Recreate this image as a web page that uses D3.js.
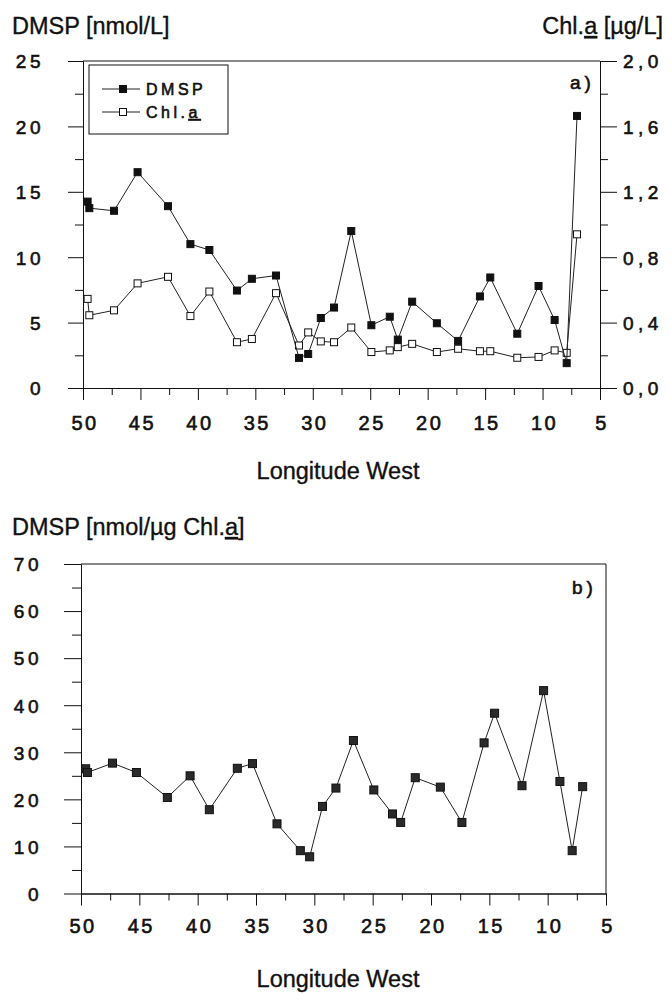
<!doctype html>
<html>
<head>
<meta charset="UTF-8">
<title>DMSP / Chl.a along longitude</title>
<script src="https://cdn.jsdelivr.net/npm/d3@7"></script>
<style>
    body{ margin:0; background:#fff; }
    text{ font-family:"Liberation Sans", Arial, sans-serif; fill:#111; }
</style>
</head>
<body>
<svg id="chart" width="671" height="993"></svg>
<script>
// stations, degrees West
var lon   = [49.6, 49.45, 47.3, 45.25, 42.6, 40.65, 39.0, 36.6, 35.3, 33.2, 31.2, 30.4, 29.3, 28.15,
             26.65, 24.9, 23.3, 22.6, 21.35, 19.2, 17.35, 15.45, 14.55, 12.2, 10.35, 8.95, 7.9, 7.0];
// DMSP nmol/L
var dmsp  = [14.25, 13.75, 13.55, 16.5, 13.9, 11.0, 10.55, 7.45, 8.35, 8.6, 2.3, 2.6, 5.35, 6.15,
             12.0, 4.8, 5.45, 3.7, 6.6, 4.95, 3.6, 7.0, 8.45, 4.15, 7.8, 5.2, 1.9, 20.8];
// Chl.a ug/L
var chl   = [0.545, 0.445, 0.475, 0.64, 0.68, 0.44, 0.59, 0.28, 0.30, 0.58, 0.26, 0.34, 0.285, 0.28,
             0.37, 0.22, 0.23, 0.25, 0.27, 0.22, 0.24, 0.225, 0.225, 0.185, 0.19, 0.23, 0.215, 0.94];
// DMSP nmol/ug Chl.a
var ratio = [26.5, 25.7, 27.7, 25.7, 20.4, 25.0, 17.8, 26.6, 27.6, 14.8, 9.1, 7.8, 18.5, 22.4,
             32.5, 22.0, 16.9, 15.1, 24.6, 22.6, 15.1, 32.0, 38.3, 22.9, 43.1, 23.8, 9.1, 22.7];

var lonTicks   = [50, 45, 40, 35, 30, 25, 20, 15, 10, 5];
var dmspTicks  = [0, 5, 10, 15, 20, 25];
var chlTicks   = [0, 0.4, 0.8, 1.2, 1.6, 2.0];
var ratioTicks = [0, 10, 20, 30, 40, 50, 60, 70];

var svg = d3.select("#chart");

function mids(t){
    return t.slice(1).map(function(v, i){ return (v + t[i]) / 2; });
}

function drawAxis(tx, ty, axisFn, scale, major, big, small, pad, fmt){
    var g = svg.append("g").attr("transform", "translate(" + tx + "," + ty + ")");
    g.append("g").call(axisFn(scale).tickValues(mids(major)).tickSize(small).tickSizeOuter(0).tickFormat(""));
    g.append("g").attr("class", "major")
     .call(axisFn(scale).tickValues(major).tickSize(big).tickSizeOuter(0).tickPadding(pad).tickFormat(fmt));
    g.selectAll("path, line").attr("stroke", "#111").attr("stroke-width", 1);
    g.selectAll(".major text").attr("fill", "#111").attr("stroke", "#111").attr("stroke-width", 0.6)
     .style("font-family", null);
    return g;
}

function num(d){ return String(d); }
function comma(d){ return d3.format(".1f")(d).replace(".", ","); }

function series(x, y, xs, ys, fill, size){
    var pts = xs.map(function(d, i){ return [x(d), y(ys[i])]; });
    svg.append("path").datum(pts)
       .attr("d", d3.line())
       .attr("fill", "none").attr("stroke", "#222").attr("stroke-width", 1);
    svg.append("g").selectAll("rect").data(pts).enter().append("rect")
       .attr("x", function(d){ return d[0] - size/2; })
       .attr("y", function(d){ return d[1] - size/2; })
       .attr("width", size).attr("height", size)
       .attr("fill", fill).attr("stroke", "#111").attr("stroke-width", 1);
}

function title(x, y, anchor, parts){
    var t = svg.append("text").attr("x", x).attr("y", y).attr("text-anchor", anchor)
               .style("font-size", "23.5px").attr("stroke", "#111").attr("stroke-width", 0.35);
    parts.forEach(function(p){
        var s = t.append("tspan").text(p[0]);
        if(p[1]) s.style("text-decoration", "underline");
    });
}

// ---------------- panel a ----------------
var xA = d3.scaleLinear().domain([50, 5]).range([83, 600]);
var yA = d3.scaleLinear().domain([0, 25]).range([388, 61]);
var yC = d3.scaleLinear().domain([0, 2]).range([388, 61]);

svg.append("line").attr("x1", 83).attr("x2", 600).attr("y1", 61).attr("y2", 61).attr("stroke", "#111");

var la = drawAxis(83, 0, d3.axisLeft, yA, dmspTicks, 15, 8, 24, num);
la.selectAll(".major text").attr("dy", "0.36em").style("font-size", "19px").style("letter-spacing", "3.5px");

var ra = drawAxis(600, 0, d3.axisRight, yC, chlTicks, 17, 8, 6, comma);
ra.selectAll(".major text").attr("dy", "0.36em").style("font-size", "19px").style("letter-spacing", "4.5px");

var ba = drawAxis(0, 388, d3.axisBottom, xA, lonTicks, 12, 7, 0, num);
ba.selectAll(".major text").attr("y", 42).attr("dy", null).attr("dx", 1.5)
  .style("font-size", "20px").style("letter-spacing", "2.5px");

series(xA, yC, lon, chl, "#fff", 7);
series(xA, yA, lon, dmsp, "#111", 7);

title(12, 34, "start", [["DMSP [nmol/L]"]]);
title(663, 34, "end", [["Chl."], ["a", true], [" [\u00b5g/L]"]]);
title(338, 479, "middle", [["Longitude West"]]);

svg.append("text").attr("x", 570).attr("y", 89).text("a)")
   .style("font-size", "19px").style("letter-spacing", "4px").attr("stroke", "#111").attr("stroke-width", 0.6);

// legend
var lg = svg.append("g");
lg.append("rect").attr("x", 89).attr("y", 65).attr("width", 139).attr("height", 69)
  .attr("fill", "#fff").attr("stroke", "#111");
[["DMSP", "#111", 89], ["Chl.a", "#fff", 112]].forEach(function(r){
    lg.append("line").attr("x1", 102).attr("x2", 140).attr("y1", r[2]).attr("y2", r[2]).attr("stroke", "#222");
    lg.append("rect").attr("x", 123 - 3.5).attr("y", r[2] - 3.5).attr("width", 7).attr("height", 7)
      .attr("fill", r[1]).attr("stroke", "#111");
    var t = lg.append("text").attr("x", 146).attr("y", r[2] + 6)
      .style("font-size", "16px").style("letter-spacing", "3.5px").attr("stroke", "#111").attr("stroke-width", 0.6);
    if(r[0] === "DMSP"){
        t.text("DMSP");
    } else {
        t.append("tspan").text("Chl.");
        t.append("tspan").text("a").style("text-decoration", "underline");
    }
});

// ---------------- panel b ----------------
var xB = d3.scaleLinear().domain([50, 5]).range([81, 606]);
var yB = d3.scaleLinear().domain([0, 70]).range([893.5, 564]);

svg.append("line").attr("x1", 81).attr("x2", 606).attr("y1", 564).attr("y2", 564).attr("stroke", "#111");
svg.append("line").attr("x1", 606).attr("x2", 606).attr("y1", 564).attr("y2", 893.5).attr("stroke", "#111");

var lb = drawAxis(81, 0, d3.axisLeft, yB, ratioTicks, 17, 9, 22, num);
lb.selectAll(".major text").attr("dy", "0.36em").style("font-size", "19px").style("letter-spacing", "3.5px");

var bb = drawAxis(0, 893.5, d3.axisBottom, xB, lonTicks, 12, 7, 0, num);
bb.selectAll(".major text").attr("y", 39.5).attr("dy", null).attr("dx", 1.5)
  .style("font-size", "20px").style("letter-spacing", "2.5px");

series(xB, yB, lon, ratio, "#2a2a2a", 8);

title(12, 535, "start", [["DMSP [nmol/\u00b5g Chl."], ["a", true], ["]"]]);
title(338, 987, "middle", [["Longitude West"]]);

svg.append("text").attr("x", 572).attr("y", 594).text("b)")
   .style("font-size", "19px").style("letter-spacing", "4px").attr("stroke", "#111").attr("stroke-width", 0.6);
</script>
</body>
</html>
